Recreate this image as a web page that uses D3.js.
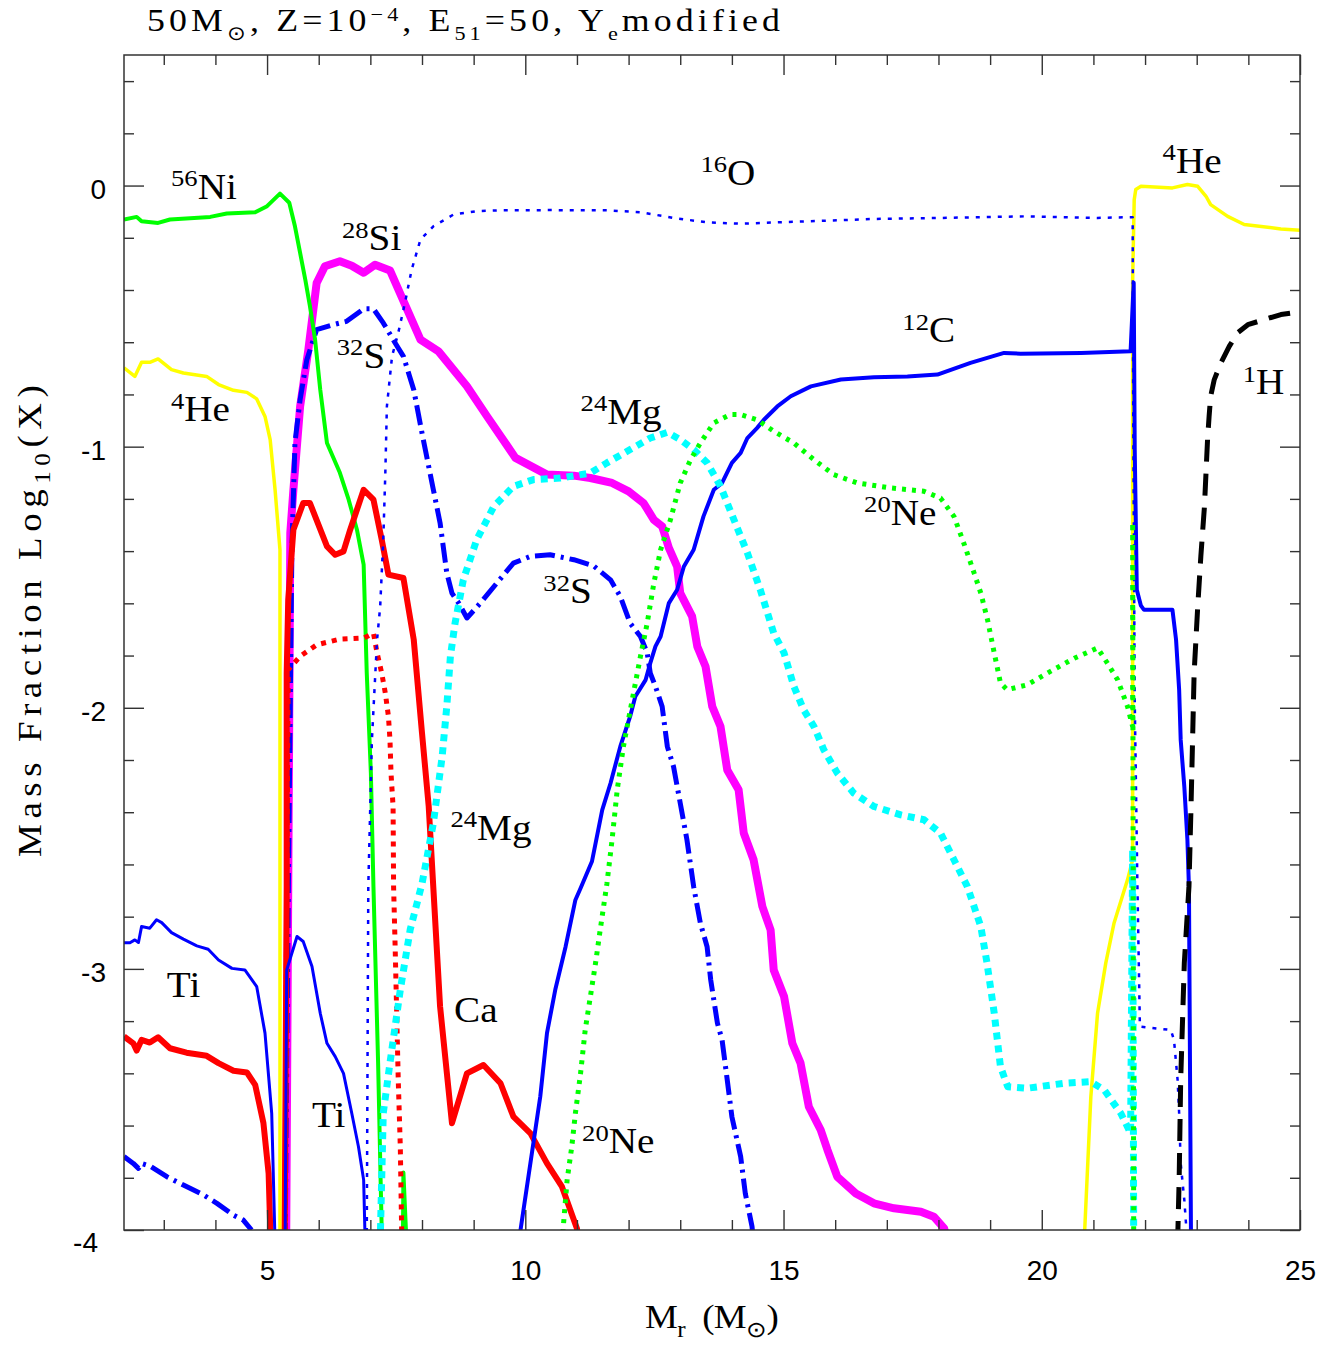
<!DOCTYPE html>
<html><head><meta charset="utf-8">
<script src="https://cdn.jsdelivr.net/npm/d3@7"></script>
<style>body{margin:0;background:#fff}svg{display:block}</style>
</head><body>
<svg id="chart" width="1338" height="1346"></svg>
<script>
// ---------------- data ----------------
const xDomain = [2.23, 25];
const yDomain = [-4, 0.5];
const xMajorTicks = [5, 10, 15, 20, 25];
const xMinorTicks = [3,4,6,7,8,9,11,12,13,14,16,17,18,19,21,22,23,24];
const yMajorTicks = [0, -1, -2, -3, -4];
const yMinorTicks = [0.4,0.2,-0.2,-0.4,-0.6,-0.8,-1.2,-1.4,-1.6,-1.8,-2.2,-2.4,-2.6,-2.8,-3.2,-3.4,-3.6,-3.8];

const ni56Main = [[2.23,-0.13],[2.475,-0.12],[2.57,-0.137],[2.89,-0.143],[3.12,-0.13],[3.90,-0.12],[4.22,-0.107],[4.77,-0.102],[5.0,-0.079],[5.25,-0.031],[5.43,-0.066],[5.54,-0.156],[5.64,-0.258],[5.74,-0.36],[5.83,-0.462],[5.93,-0.59],[6.03,-0.782],[6.16,-0.986],[6.41,-1.10],[6.58,-1.203],[6.74,-1.318],[6.87,-1.452],[6.93,-1.866],[7.01,-2.249],[7.06,-2.686],[7.15,-3.36],[7.22,-4.0],[7.25,-4.12]];
const ni56Spike = [[7.63,-4.05],[7.64,-3.78],[7.70,-4.05]];

const he4Inner = [[2.23,-0.698],[2.44,-0.731],[2.57,-0.677],[2.73,-0.677],[2.89,-0.664],[3.15,-0.705],[3.38,-0.718],[3.83,-0.731],[4.06,-0.762],[4.35,-0.784],[4.61,-0.792],[4.80,-0.817],[4.96,-0.884],[5.06,-0.973],[5.155,-1.165],[5.25,-1.395],[5.25,-4.05]];
const he4Outer = [[20.82,-4.05],[20.95,-3.49],[21.08,-3.17],[21.24,-2.977],[21.40,-2.824],[21.66,-2.659],[21.76,-2.582],[21.76,-1.586],[21.76,-0.36],[21.79,-0.054],[21.82,-0.015],[21.92,-0.003],[22.53,-0.009],[22.82,0.004],[23.02,-0.003],[23.18,-0.041],[23.27,-0.073],[23.60,-0.118],[23.92,-0.149],[24.63,-0.166],[25.0,-0.171]];

const si28 = [[5.37,-4.05],[5.45,-1.33],[5.51,-1.165],[5.64,-0.846],[5.80,-0.628],[5.96,-0.373],[6.12,-0.309],[6.41,-0.29],[6.64,-0.307],[6.87,-0.334],[7.09,-0.303],[7.38,-0.325],[7.97,-0.59],[8.32,-0.635],[8.87,-0.769],[9.26,-0.884],[9.81,-1.043],[10.42,-1.107],[10.94,-1.111],[11.26,-1.12],[11.68,-1.139],[12.0,-1.171],[12.29,-1.216],[12.49,-1.28],[12.65,-1.305],[12.78,-1.388],[12.94,-1.459],[13.0,-1.561],[13.23,-1.65],[13.33,-1.765],[13.49,-1.842],[13.62,-1.995],[13.78,-2.072],[13.91,-2.238],[14.13,-2.314],[14.23,-2.48],[14.42,-2.582],[14.59,-2.761],[14.75,-2.851],[14.81,-3.004],[15.01,-3.106],[15.17,-3.285],[15.33,-3.361],[15.49,-3.528],[15.72,-3.617],[15.85,-3.693],[16.04,-3.796],[16.40,-3.86],[16.75,-3.898],[17.14,-3.917],[17.66,-3.93],[17.91,-3.949],[18.11,-3.994],[18.18,-4.05]];

const s32Inner = [[2.23,-3.719],[2.41,-3.745],[2.51,-3.764],[2.57,-3.745],[2.73,-3.755],[3.06,-3.796],[3.38,-3.828],[3.77,-3.866],[4.03,-3.898],[4.35,-3.943],[4.54,-3.962],[4.70,-4.0]];
const s32Main = [[5.35,-4.05],[5.41,-2.736],[5.45,-1.97],[5.48,-1.395],[5.54,-0.985],[5.64,-0.82],[5.77,-0.667],[5.96,-0.552],[6.28,-0.533],[6.54,-0.52],[6.87,-0.472],[7.06,-0.472],[7.25,-0.526],[7.48,-0.603],[7.64,-0.654],[7.84,-0.782],[8.0,-0.948],[8.22,-1.165],[8.35,-1.292],[8.48,-1.484],[8.58,-1.561],[8.71,-1.599],[8.87,-1.656],[9.13,-1.599],[9.45,-1.522],[9.77,-1.446],[10.10,-1.42],[10.48,-1.414],[10.94,-1.433],[11.32,-1.456],[11.65,-1.51],[11.84,-1.574],[12.03,-1.676],[12.23,-1.727],[12.36,-1.79],[12.42,-1.867],[12.52,-1.918],[12.65,-1.995],[12.75,-2.148],[12.87,-2.225],[13.0,-2.365],[13.13,-2.506],[13.26,-2.685],[13.39,-2.825],[13.52,-2.915],[13.59,-3.042],[13.72,-3.208],[13.81,-3.272],[13.91,-3.425],[14.0,-3.566],[14.17,-3.719],[14.26,-3.86],[14.39,-3.987],[14.42,-4.05]];

const o16 = [[6.93,-4.05],[6.96,-2.686],[7.03,-2.123],[7.13,-1.739],[7.19,-1.613],[7.25,-1.356],[7.29,-1.10],[7.32,-0.846],[7.42,-0.654],[7.54,-0.564],[7.67,-0.449],[7.80,-0.322],[7.97,-0.207],[8.22,-0.156],[8.61,-0.111],[9.06,-0.098],[9.52,-0.095],[10.48,-0.094],[11.58,-0.095],[12.23,-0.102],[12.87,-0.124],[13.52,-0.141],[14.17,-0.146],[15.46,-0.137],[16.75,-0.128],[18.04,-0.124],[19.66,-0.118],[21.08,-0.124],[21.76,-0.121],[21.77,-0.82],[21.80,-1.97],[21.85,-2.659],[21.90,-3.221],[22.50,-3.234],[22.56,-3.272],[22.63,-3.425],[22.66,-3.553],[22.69,-3.745],[22.76,-3.885],[22.82,-4.05]];

const ca40Inner = [[2.23,-3.259],[2.41,-3.285],[2.475,-3.313],[2.57,-3.272],[2.73,-3.282],[2.89,-3.262],[3.12,-3.304],[3.44,-3.321],[3.83,-3.333],[4.06,-3.361],[4.35,-3.390],[4.61,-3.397],[4.77,-3.444],[4.93,-3.591],[5.03,-3.783],[5.07,-4.05]];
const ca40Main = [[5.34,-4.05],[5.38,-2.685],[5.38,-1.867],[5.41,-1.586],[5.51,-1.318],[5.70,-1.216],[5.83,-1.216],[6.16,-1.382],[6.32,-1.414],[6.48,-1.401],[6.61,-1.318],[6.87,-1.165],[7.06,-1.203],[7.22,-1.356],[7.35,-1.49],[7.64,-1.503],[7.84,-1.739],[8.0,-2.097],[8.13,-2.378],[8.22,-2.691],[8.35,-3.144],[8.58,-3.591],[8.87,-3.40],[9.19,-3.368],[9.52,-3.438],[9.77,-3.566],[10.10,-3.63],[10.42,-3.745],[10.71,-3.834],[11.0,-3.994],[11.03,-4.05]];

const redDotted = [[5.35,-4.05],[5.38,-2.736],[5.41,-1.854],[5.64,-1.803],[5.96,-1.759],[6.41,-1.737],[6.87,-1.733],[7.06,-1.714],[7.13,-1.79],[7.22,-1.867],[7.29,-1.944],[7.35,-2.033],[7.38,-2.123],[7.40,-2.25],[7.44,-2.378],[7.45,-2.685],[7.48,-2.916],[7.51,-3.169],[7.54,-3.425],[7.58,-3.682],[7.61,-4.05]];

const tiInner = [[2.23,-2.90],[2.345,-2.90],[2.44,-2.889],[2.51,-2.899],[2.57,-2.838],[2.73,-2.844],[2.86,-2.812],[2.96,-2.823],[3.15,-2.861],[3.38,-2.886],[3.64,-2.912],[3.86,-2.925],[4.06,-2.966],[4.32,-2.998],[4.57,-3.004],[4.80,-3.068],[4.96,-3.246],[5.09,-3.553],[5.155,-4.05]];
const tiMain = [[5.35,-4.05],[5.38,-3.004],[5.58,-2.876],[5.70,-2.895],[5.87,-2.991],[6.03,-3.17],[6.16,-3.285],[6.32,-3.336],[6.48,-3.40],[6.64,-3.553],[6.77,-3.681],[6.87,-3.808],[6.90,-4.05]];

const c12 = [[9.87,-4.05],[10.29,-3.489],[10.42,-3.246],[10.58,-3.08],[10.78,-2.915],[10.97,-2.736],[11.07,-2.691],[11.29,-2.589],[11.49,-2.391],[11.65,-2.289],[11.84,-2.148],[12.03,-2.033],[12.13,-1.957],[12.33,-1.893],[12.42,-1.829],[12.52,-1.765],[12.62,-1.727],[12.78,-1.599],[12.94,-1.548],[13.07,-1.459],[13.26,-1.395],[13.45,-1.267],[13.65,-1.165],[13.81,-1.139],[14.0,-1.062],[14.17,-1.024],[14.30,-0.967],[14.49,-0.928],[14.62,-0.897],[14.88,-0.846],[15.14,-0.807],[15.53,-0.769],[16.11,-0.743],[16.75,-0.734],[17.40,-0.731],[17.98,-0.724],[18.62,-0.679],[19.01,-0.656],[19.27,-0.641],[19.59,-0.644],[20.76,-0.641],[21.72,-0.635],[21.78,-0.372],[21.80,-1.011],[21.84,-1.548],[21.92,-1.609],[21.98,-1.625],[22.53,-1.625],[22.60,-1.739],[22.66,-1.931],[22.69,-2.123],[22.76,-2.302],[22.82,-2.506],[22.85,-2.691],[22.89,-4.05]];

const mg24 = [[7.19,-4.05],[7.25,-3.552],[7.38,-3.36],[7.58,-3.08],[7.77,-2.851],[8.0,-2.674],[8.22,-2.442],[8.39,-2.187],[8.48,-1.995],[8.55,-1.803],[8.64,-1.676],[8.80,-1.51],[9.06,-1.356],[9.39,-1.229],[9.77,-1.152],[10.16,-1.126],[10.68,-1.12],[11.26,-1.101],[11.58,-1.062],[12.03,-1.011],[12.42,-0.967],[12.75,-0.945],[13.0,-0.973],[13.26,-1.011],[13.52,-1.062],[13.78,-1.152],[14.04,-1.28],[14.30,-1.407],[14.55,-1.548],[14.81,-1.714],[15.01,-1.79],[15.20,-1.918],[15.39,-2.008],[15.59,-2.072],[15.78,-2.161],[16.04,-2.25],[16.36,-2.327],[16.75,-2.378],[17.27,-2.41],[17.72,-2.429],[18.04,-2.48],[18.30,-2.582],[18.56,-2.685],[18.82,-2.838],[18.94,-2.978],[19.08,-3.17],[19.20,-3.374],[19.34,-3.451],[19.72,-3.457],[20.43,-3.438],[20.95,-3.432],[21.21,-3.464],[21.53,-3.553],[21.72,-3.629],[21.76,-2.544],[21.78,-4.05]];

const ne20 = [[10.71,-4.05],[10.81,-3.808],[10.90,-3.681],[10.97,-3.553],[11.07,-3.40],[11.16,-3.234],[11.26,-3.106],[11.36,-2.978],[11.45,-2.851],[11.58,-2.674],[11.68,-2.506],[11.78,-2.314],[11.90,-2.148],[12.07,-1.97],[12.23,-1.803],[12.36,-1.676],[12.49,-1.522],[12.62,-1.395],[12.81,-1.28],[13.0,-1.139],[13.20,-1.05],[13.39,-0.986],[13.65,-0.909],[13.97,-0.877],[14.17,-0.877],[14.49,-0.897],[14.81,-0.941],[15.20,-0.986],[15.59,-1.05],[15.97,-1.107],[16.43,-1.139],[17.07,-1.158],[17.72,-1.171],[18.04,-1.197],[18.30,-1.267],[18.49,-1.369],[18.69,-1.484],[18.82,-1.561],[18.95,-1.663],[19.08,-1.79],[19.20,-1.905],[19.33,-1.931],[19.72,-1.912],[20.11,-1.867],[20.63,-1.81],[21.08,-1.771],[21.27,-1.829],[21.47,-1.893],[21.66,-1.995],[21.76,-2.072],[21.76,-1.291],[21.78,-4.05]];

const h1 = [[22.63,-4.05],[22.66,-3.808],[22.69,-3.425],[22.76,-2.978],[22.85,-2.685],[22.89,-2.378],[22.92,-2.123],[22.95,-1.867],[23.02,-1.612],[23.08,-1.42],[23.15,-1.229],[23.21,-0.973],[23.24,-0.884],[23.27,-0.807],[23.34,-0.743],[23.47,-0.679],[23.63,-0.616],[23.79,-0.564],[23.99,-0.533],[24.31,-0.513],[24.63,-0.494],[25.0,-0.483]];

const labels = [
  {sup:"56", el:"Ni", x:3.14, y:-0.05},
  {sup:"4",  el:"He", x:3.14, y:-0.903},
  {sup:"28", el:"Si", x:6.45, y:-0.248},
  {sup:"32", el:"S",  x:6.35, y:-0.697},
  {sup:"16", el:"O",  x:13.39, y:0.004},
  {sup:"12", el:"C",  x:17.30, y:-0.60},
  {sup:"24", el:"Mg", x:11.07, y:-0.912},
  {sup:"20", el:"Ne", x:16.56, y:-1.30},
  {sup:"32", el:"S",  x:10.35, y:-1.60},
  {sup:"24", el:"Mg", x:8.55, y:-2.506},
  {sup:"",   el:"Ti", x:3.06, y:-3.106},
  {sup:"",   el:"Ti", x:5.87, y:-3.604},
  {sup:"",   el:"Ca", x:8.62, y:-3.202},
  {sup:"20", el:"Ne", x:11.10, y:-3.706},
  {sup:"4",  el:"He", x:22.34, y:0.049},
  {sup:"1",  el:"H",  x:23.89, y:-0.80}
];

// ---------------- styles ----------------
const series = [
  {segs:[si28], color:"#ff00ff", w:8, dash:null},
  {segs:[s32Inner, s32Main], color:"#0000ff", w:5, dash:"20,6,3,6"},
  {segs:[he4Inner, he4Outer], color:"#ffff00", w:3.5, dash:null},
  {segs:[ni56Main, ni56Spike], color:"#00ff00", w:4, dash:null},
  {segs:[ca40Inner, ca40Main], color:"#ff0000", w:6, dash:null},
  {segs:[redDotted], color:"#ff0000", w:5, dash:"5,6"},
  {segs:[tiInner, tiMain], color:"#0000ff", w:3, dash:null},
  {segs:[o16], color:"#0000ff", w:2.5, dash:"4,7"},
  {segs:[c12], color:"#0000ff", w:4, dash:null},
  {segs:[mg24], color:"#00ffff", w:7, dash:"7,6"},
  {segs:[ne20], color:"#00ff00", w:5, dash:"4,6"},
  {segs:[h1], color:"#000000", w:5, dash:"22,12"}
];

const L = 124, R = 1300, T = 55, B = 1230;
const svg = d3.select("#chart");
const x = d3.scaleLinear().domain(xDomain).range([L, R]);
const y = d3.scaleLinear().domain(yDomain).range([B, T]);
const SERIF = "'Liberation Serif','Times New Roman',serif";
const SANS = "'Liberation Sans',Arial,sans-serif";

svg.append("clipPath").attr("id","clip").append("rect")
  .attr("x", L).attr("y", T).attr("width", R-L).attr("height", B-T);

const line = d3.line().x(d => x(d[0])).y(d => y(d[1]));
const plot = svg.append("g").attr("clip-path","url(#clip)");
series.forEach(s => {
  s.segs.forEach(seg => {
    plot.append("path").attr("d", line(seg))
      .attr("fill","none").attr("stroke", s.color).attr("stroke-width", s.w)
      .attr("stroke-linejoin","round")
      .attr("stroke-dasharray", s.dash);
  });
});

// axes
const tickColor = "#333";
function styleAxis(g){ g.select(".domain").remove(); g.selectAll("line").attr("stroke", tickColor).attr("stroke-width",1.4); }
svg.append("g").attr("transform",`translate(0,${B})`)
  .call(d3.axisBottom(x).tickValues(xMajorTicks).tickSize(-20).tickSizeOuter(0).tickPadding(30).tickFormat(d=>String(d)))
  .call(styleAxis)
  .selectAll("text").attr("font-family", SANS).attr("font-size", 28).attr("fill","#000");
svg.append("g").attr("transform",`translate(0,${B})`)
  .call(d3.axisBottom(x).tickValues(xMinorTicks).tickSize(-10).tickSizeOuter(0).tickFormat(""))
  .call(styleAxis);
svg.append("g").attr("transform",`translate(0,${T})`)
  .call(d3.axisTop(x).tickValues(xMajorTicks).tickSize(-20).tickSizeOuter(0).tickFormat(""))
  .call(styleAxis);
svg.append("g").attr("transform",`translate(0,${T})`)
  .call(d3.axisTop(x).tickValues(xMinorTicks).tickSize(-10).tickSizeOuter(0).tickFormat(""))
  .call(styleAxis);
const yl = svg.append("g").attr("transform",`translate(${L},0)`)
  .call(d3.axisLeft(y).tickValues(yMajorTicks).tickSize(-20).tickSizeOuter(0).tickPadding(18).tickFormat(d=>String(d)))
  .call(styleAxis);
yl.selectAll("text").attr("font-family", SANS).attr("font-size", 28).attr("fill","#000").attr("dy","0.45em");
yl.selectAll(".tick").filter(d => d === -4).select("text").attr("dx", -8).attr("dy","0.75em");
svg.append("g").attr("transform",`translate(${L},0)`)
  .call(d3.axisLeft(y).tickValues(yMinorTicks).tickSize(-10).tickSizeOuter(0).tickFormat(""))
  .call(styleAxis);
svg.append("g").attr("transform",`translate(${R},0)`)
  .call(d3.axisRight(y).tickValues(yMajorTicks).tickSize(-20).tickSizeOuter(0).tickFormat(""))
  .call(styleAxis);
svg.append("g").attr("transform",`translate(${R},0)`)
  .call(d3.axisRight(y).tickValues(yMinorTicks).tickSize(-10).tickSizeOuter(0).tickFormat(""))
  .call(styleAxis);

svg.append("rect").attr("x",L).attr("y",T).attr("width",R-L).attr("height",B-T)
  .attr("fill","none").attr("stroke",tickColor).attr("stroke-width",1.5);

// rich text helper: horizontal scale sx, then optional letter-spacing to reach a width
function rich(parent, parts, size, sx, transformBase, fitWidth, supScale, supRaise){
  const ss = supScale || 0.68, sr = supRaise || 0.36;
  const t = parent.append("text").attr("font-family", SERIF).attr("font-size", size)
    .attr("fill","#000").style("white-space","pre");
  let shift = 0, nChars = 0;
  parts.forEach(p => {
    const sp = t.append("tspan").text(p.t);
    nChars += p.t.length;
    let target = 0, fs = size;
    if (p.s === "sup"){ target = -size*sr; fs = size*ss; }
    else if (p.s === "sub"){ target = size*0.28; fs = size*ss; }
    sp.attr("font-size", fs).attr("dy", target - shift);
    shift = target;
  });
  if (fitWidth){
    const w = t.node().getBBox().width;
    const ls = (fitWidth / sx - w) / Math.max(1, nChars - 1);
    t.attr("letter-spacing", ls);
  }
  t.attr("transform", `${transformBase} scale(${sx},1)`);
  return t;
}

// annotation labels
const lg = svg.append("g");
labels.forEach(l => {
  const parts = [];
  if (l.sup) parts.push({t:l.sup, s:"sup"});
  parts.push({t:l.el, s:null});
  rich(lg, parts, 35, 1.12, `translate(${x(l.x)},${y(l.y)})`);
});

// title
rich(svg, [{t:"50M"},{t:"\u2299",s:"sub"},{t:", Z=10"},{t:"\u22124",s:"sup"},{t:", E"},{t:"51",s:"sub"},{t:"=50, Y"},{t:"e",s:"sub"},{t:"modified"}],
  32, 1.12, "translate(147,31)", 633, 0.62, 0.32);
// x label
rich(svg, [{t:"M"},{t:"r",s:"sub"},{t:"  (M"},{t:"\u2299",s:"sub"},{t:")"}], 33, 1.12, "translate(645,1328)", 133);
// y label
rich(svg, [{t:"Mass Fraction Log"},{t:"10",s:"sub"},{t:"(X)"}], 33, 1.12, "translate(41,857) rotate(-90)", 472);
</script>
</body></html>
